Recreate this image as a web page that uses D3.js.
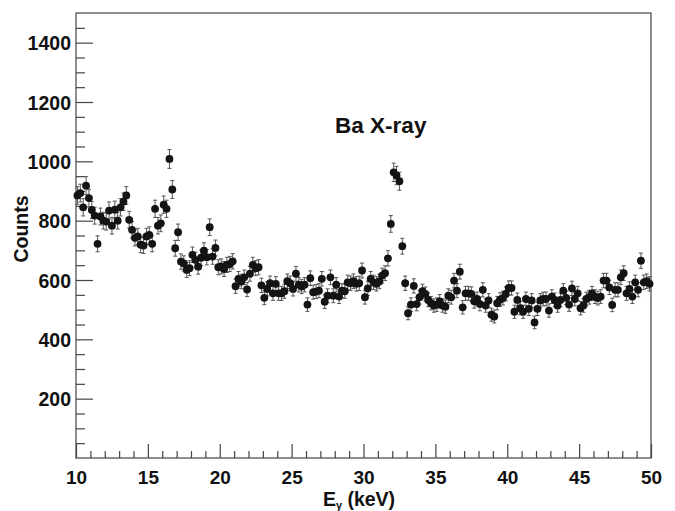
<!DOCTYPE html>
<html>
<head>
<meta charset="utf-8">
<script src="https://cdn.jsdelivr.net/npm/d3@7"></script>
<style>
  html, body { margin: 0; padding: 0; background: #fff; }
  svg text { font-family: "Liberation Sans", Arial, Helvetica, sans-serif; font-weight: bold; fill: #111; }
</style>
</head>
<body>
<script>
// Bin settings (keV)
const binStart = 10.0;
const binWidth = 0.2;
// Counts per 0.2 keV bin, from 10.1 keV to 49.9 keV
const counts = [
  885, 893, 845, 918, 876, 836, 817, 722, 814, 800,
  797, 834, 783, 837, 800, 845, 864, 885, 803, 769,
  742, 747, 719, 716, 747, 752, 722, 840, 783, 791,
  854, 840, 1008, 905, 707, 761, 662, 656, 634, 640,
  685, 668, 645, 675, 699, 677, 778, 679, 708, 643,
  646, 637, 651, 654, 663, 579, 604, 595, 609, 568,
  621, 651, 640, 643, 582, 540, 570, 589, 555, 587,
  555, 555, 562, 596, 589, 570, 621, 584, 578, 584,
  517, 606, 559, 561, 564, 604, 527, 547, 609, 547,
  584, 544, 564, 562, 592, 589, 596, 587, 589, 632,
  542, 572, 604, 592, 587, 595, 615, 623, 673, 789,
  963, 952, 933, 714, 589, 488, 517, 580, 519, 542,
  562, 553, 533, 522, 514, 517, 528, 514, 510, 547,
  542, 598, 564, 628, 508, 555, 555, 553, 528, 536,
  519, 567, 514, 531, 483, 477, 522, 534, 539, 553,
  573, 573, 493, 533, 505, 493, 536, 503, 531, 457,
  503, 531, 536, 536, 497, 544, 533, 514, 533, 564,
  540, 517, 572, 536, 555, 505, 514, 536, 542, 555,
  544, 539, 544, 598, 598, 575, 516, 567, 567, 609,
  623, 555, 570, 544, 592, 567, 665, 592, 596, 587
];
const energies = counts.map((_, i) => binStart + binWidth * (i + 0.5));

const xDomain = [10, 50];
const yDomain = [0, 1500];
const xTicks = [10, 15, 20, 25, 30, 35, 40, 45, 50];
const yTicks = [200, 400, 600, 800, 1000, 1200, 1400];
const xTitle = "E";
const xTitleSub = "\u03b3";
const xTitleRest = " (keV)";
const yTitle = "Counts";
const annotation = "Ba X-ray";
const annotationAt = [31.2, 1094];

const W = 675, H = 511;
const m = { left: 76, right: 24, top: 13, bottom: 53 };

const svg = d3.select("body").append("svg")
  .attr("width", W).attr("height", H);

const x = d3.scaleLinear().domain(xDomain).range([m.left, W - m.right]);
const y = d3.scaleLinear().domain(yDomain).range([H - m.bottom, m.top]);

const frameColor = "#444";

// frame
svg.append("rect")
  .attr("x", x(xDomain[0])).attr("y", y(yDomain[1]))
  .attr("width", x(xDomain[1]) - x(xDomain[0]))
  .attr("height", y(yDomain[0]) - y(yDomain[1]))
  .attr("fill", "none").attr("stroke", frameColor).attr("stroke-width", 1.2);

// Y axis (ticks inside)
const gy = svg.append("g").attr("transform", `translate(${x(xDomain[0])},0)`)
  .call(d3.axisLeft(y).tickValues(yTicks).tickSize(-17).tickFormat(d3.format("d")));
const yMinor = d3.range(50, 1500, 50).filter(v => v % 200 !== 0);
const gyMinor = svg.append("g").attr("transform", `translate(${x(xDomain[0])},0)`)
  .call(d3.axisLeft(y).tickValues(yMinor).tickSize(-9).tickFormat(""));
[gy, gyMinor].forEach(g => {
  g.select(".domain").remove();
  g.selectAll("line").attr("stroke", frameColor).attr("stroke-width", 1.2);
});
gy.selectAll("text")
  .attr("x", -5).attr("dy", "0.36em")
  .style("font-size", "19.5px").style("fill", "#111");

// X axis (ticks inside)
const gx = svg.append("g").attr("transform", `translate(0,${y(0)})`)
  .call(d3.axisBottom(x).tickValues(xTicks).tickSize(-14).tickFormat(d3.format("d")));
const xMinor = d3.range(11, 50, 1).filter(v => v % 5 !== 0);
const gxMinor = svg.append("g").attr("transform", `translate(0,${y(0)})`)
  .call(d3.axisBottom(x).tickValues(xMinor).tickSize(-7).tickFormat(""));
[gx, gxMinor].forEach(g => {
  g.select(".domain").remove();
  g.selectAll("line").attr("stroke", frameColor).attr("stroke-width", 1.2);
});
gx.selectAll("text")
  .attr("y", 26).attr("dy", 0)
  .style("font-size", "19px").style("fill", "#111");

// Error bars (sqrt N)
const cap = 2;
const eb = svg.append("g").attr("stroke", "#555").attr("stroke-width", 1);
counts.forEach((c, i) => {
  const e = Math.sqrt(c);
  const cx = x(energies[i]);
  eb.append("line").attr("x1", cx).attr("x2", cx).attr("y1", y(c - e)).attr("y2", y(c + e));
  eb.append("line").attr("x1", cx - cap).attr("x2", cx + cap).attr("y1", y(c + e)).attr("y2", y(c + e));
  eb.append("line").attr("x1", cx - cap).attr("x2", cx + cap).attr("y1", y(c - e)).attr("y2", y(c - e));
});

// Markers
svg.append("g").selectAll("circle").data(counts).join("circle")
  .attr("cx", (d, i) => x(energies[i]))
  .attr("cy", d => y(d))
  .attr("r", 3.9)
  .attr("fill", "#141414");

// Annotation
svg.append("text")
  .attr("x", x(annotationAt[0])).attr("y", y(annotationAt[1]))
  .attr("text-anchor", "middle").style("font-size", "22.5px")
  .text(annotation);

// Axis titles
const xt = svg.append("text")
  .attr("x", 359).attr("y", 505.5)
  .attr("text-anchor", "middle").style("font-size", "19.5px");
xt.append("tspan").text(xTitle);
xt.append("tspan").style("font-size", "11px").attr("dy", 3.5).text(xTitleSub);
xt.append("tspan").attr("dy", -3.5).text(xTitleRest);

svg.append("text")
  .attr("transform", `translate(28,229) rotate(-90)`)
  .attr("text-anchor", "middle").style("font-size", "19.5px")
  .text(yTitle);
</script>
</body>
</html>
